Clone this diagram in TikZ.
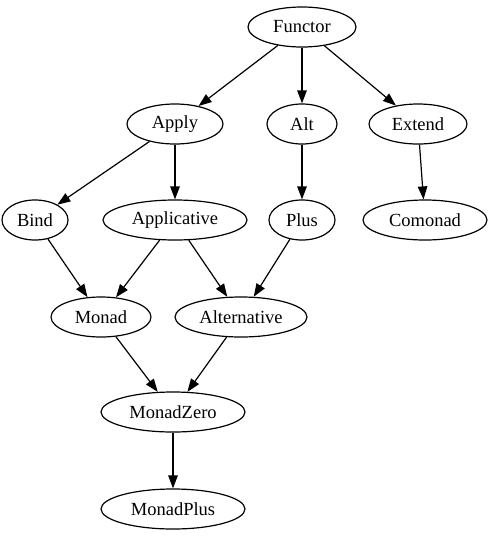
\documentclass[tikz,border=0pt]{standalone}
\usepackage{fontspec}
\setmainfont{Liberation Serif}
\usetikzlibrary{arrows.meta, shapes.geometric}
\tikzset{
  cls/.style   = {ellipse, draw, line width=1.2pt, inner sep=0pt, minimum height=40pt,
                  font=\fontsize{18.5}{20}\selectfont},
  arrow/.style = {-{Triangle[length=13pt, width=9.5pt]}, line width=1.2pt},
}

\begin{document}
\begin{tikzpicture}[x=1pt, y=-1pt]
  \useasboundingbox (0,0) rectangle (493,539);
  % classes, one row per level
  \node[cls, minimum width=108pt] (functor)     at (302,27)  {Functor};
  \node[cls, minimum width=96pt]  (apply)       at (175,124) {Apply};
  \node[cls, minimum width=70pt]  (alt)         at (302,124) {Alt};
  \node[cls, minimum width=98pt]  (extend)      at (418,124) {Extend};
  \node[cls, minimum width=66pt]  (bind)        at (35,220)  {Bind};
  \node[cls, minimum width=144pt] (applicative) at (175,220) {Applicative};
  \node[cls, minimum width=66pt]  (plus)        at (302,220) {Plus};
  \node[cls, minimum width=124pt] (comonad)     at (425,220) {Comonad};
  \node[cls, minimum width=100pt] (monad)       at (101,317) {Monad};
  \node[cls, minimum width=132pt] (alternative) at (241,317) {Alternative};
  \node[cls, minimum width=144pt] (monadzero)   at (173,412) {MonadZero};
  \node[cls, minimum width=144pt] (monadplus)   at (173,509) {MonadPlus};
  % superclass arrows
  \draw[arrow] (functor) -- (apply);
  \draw[arrow] (functor) -- (alt);
  \draw[arrow] (functor) -- (extend);
  \draw[arrow] (apply) -- (bind);
  \draw[arrow] (apply) -- (applicative);
  \draw[arrow] (alt) -- (plus);
  \draw[arrow] (extend) -- (comonad);
  \draw[arrow] (bind) -- (monad);
  \draw[arrow] (applicative) -- (monad);
  \draw[arrow] (applicative) -- (alternative);
  \draw[arrow] (plus) -- (alternative);
  \draw[arrow] (monad) -- (monadzero);
  \draw[arrow] (alternative) -- (monadzero);
  \draw[arrow] (monadzero) -- (monadplus);
\end{tikzpicture}
\end{document}
